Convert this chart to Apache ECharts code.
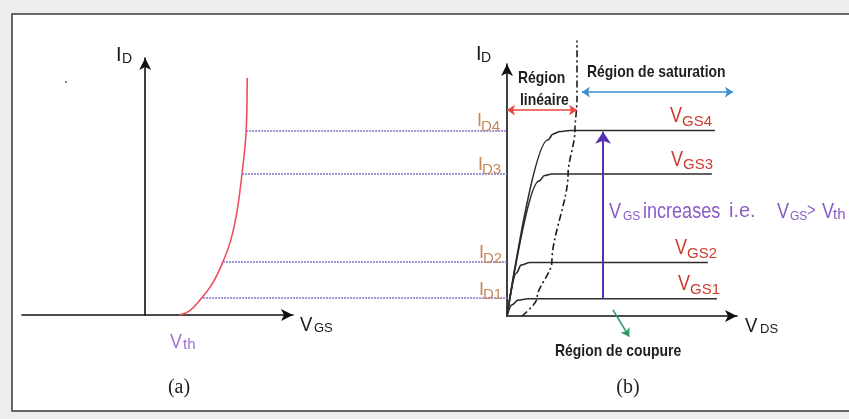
<!DOCTYPE html>
<html><head><meta charset="utf-8">
<script src="https://cdn.jsdelivr.net/npm/echarts@6/dist/echarts.min.js"></script>
<style>html,body{margin:0;padding:0;background:#ededed}#c{width:849px;height:419px}</style>
</head><body><div id="c"></div>
<script>
// ---- Panel (a): transfer characteristic I_D vs V_GS ----
const transferVgs = [1.0, 1.29, 1.58, 1.93, 2.24, 2.47, 2.64, 2.79, 2.91, 2.94];
const transferId  = [0, 0.17, 0.57, 1.18, 2.01, 2.85, 3.87, 5.35, 6.98, 8.99];
// drain current levels and the V_GS where the transfer curve reaches them
const idNames    = ['D1', 'D2', 'D3', 'D4'];
const idLevels   = [0.65, 2.02, 5.36, 7.0];
const idStartVgs = [1.67, 2.24, 2.79, 2.91];
// ---- Panel (b): output characteristics I_D vs V_DS ----
const vgsNames = ['GS1', 'GS2', 'GS3', 'GS4'];
const outVds = [
  [0, 0.21, 0.47, 0.89, 8.94],
  [0, 0.40, 0.60, 0.98, 8.55],
  [0, 1.36, 1.60, 1.91, 8.72],
  [0, 1.74, 1.96, 2.26, 2.68, 8.85]
];
const outId = [
  [0, 0.42, 0.60, 0.65, 0.65],
  [0, 1.62, 1.92, 2.02, 2.02],
  [0, 5.09, 5.30, 5.36, 5.36],
  [0, 6.64, 6.87, 6.96, 7.0, 7.0]
];
// saturation boundary (V_DS = V_GS - V_th), dash-dot
const satVds = [0.64, 1.28, 1.91, 2.60, 2.89, 2.98, 2.98];
const satId  = [0, 0.68, 2.04, 5.36, 6.98, 8.15, 10.4];

const zip = (xs, ys) => xs.map((x, i) => [x, ys[i]]);
const SANS = 'Liberation Sans, Arial, sans-serif';

function axis(extra) {
  return Object.assign({
    type: 'value',
    axisLabel: { show: false }, axisTick: { show: false }, splitLine: { show: false },
    axisLine: { show: true, onZero: true, symbol: ['none', 'arrow'], symbolSize: [9, 12],
      lineStyle: { color: '#111', width: 1.6 } }
  }, extra);
}
function txt(x, y, s, size, color, o) {
  o = o || {};
  return { type: 'text', x: x, y: y, z: 20, silent: true, scaleX: o.sx || 1,
    style: { text: s, fill: color, fontSize: size, fontFamily: o.family || SANS,
      fontWeight: o.weight || 'normal', align: o.align || 'left', verticalAlign: 'middle',
      textAlign: o.align || 'left', textVerticalAlign: 'middle' } };
}
const N = { sx: 0.82 };
const NB = { sx: 0.82, weight: 'bold' };

const series = [];
series.push({ type: 'line', xAxisIndex: 0, yAxisIndex: 0, data: zip(transferVgs, transferId),
  showSymbol: false, smooth: 0.4, z: 4,
  lineStyle: { color: '#ec4f5e', width: 1.6 } });
outVds.forEach((xs, i) => series.push({ type: 'line', xAxisIndex: 1, yAxisIndex: 1,
  data: zip(xs, outId[i]), showSymbol: false, smooth: 0.35, smoothMonotone: 'x', z: 4,
  lineStyle: { color: '#2c2c2c', width: 1.6 } }));
series.push({ type: 'line', xAxisIndex: 1, yAxisIndex: 1, data: zip(satVds, satId),
  showSymbol: false, smooth: 0.3, smoothMonotone: 'y', clip: false, z: 4,
  lineStyle: { color: '#1c1c1c', width: 1.6, type: [7, 3, 2, 3] } });
function seg(grid, coords, color, w, sym, size, type) {
  return { type: 'lines', coordinateSystem: 'cartesian2d', xAxisIndex: grid, yAxisIndex: grid,
    clip: false, z: 5, symbol: sym, symbolSize: size, silent: true,
    lineStyle: { color: color, width: w, opacity: 1, curveness: 0, type: type || 'solid' },
    data: [{ coords: coords }] };
}
series.push(seg(1, [[0, 7.77], [2.98, 7.77]], '#e8453c', 1.6, ['arrow', 'arrow'], 8));
series.push(seg(1, [[3.19, 8.45], [9.62, 8.45]], '#3d8dcc', 1.6, ['arrow', 'arrow'], 8));
series.push(seg(1, [[4.09, 0.65], [4.09, 6.95]], '#5a2fb5', 2, ['none', 'arrow'], [9, 12]));
series.push(seg(1, [[4.51, 0.23], [5.2, -0.78]], '#2a9a6a', 1.6, ['none', 'arrow'], [6, 8]));

const PUR = '#8a5cc8';
const graphic = [
  { type: 'rect', z: -5, silent: true, shape: { x: 12, y: 14, width: 860, height: 397 },
    style: { fill: '#ffffff', stroke: '#3a3a3a', lineWidth: 1.5 } },
  { type: 'circle', z: 20, silent: true, shape: { cx: 66, cy: 82, r: 1 }, style: { fill: '#555' } },
  // panel (a) axis labels
  txt(116, 55, 'I', 20, '#1a1a1a'), txt(122, 59, 'D', 14, '#1a1a1a'),
  txt(300, 325, 'V', 21, '#1a1a1a', { sx: 0.88 }), txt(314, 328, 'GS', 13, '#1a1a1a'),
  txt(170, 342, 'V', 21, '#9d70d5', { sx: 0.85 }), txt(183, 345, 'th', 15, '#9d70d5'),
  txt(179, 388, '(a)', 20, '#222', { family: 'Liberation Serif, serif', align: 'center' }),
  // panel (b) axis labels
  txt(476, 54, 'I', 20, '#1a1a1a'), txt(481, 58, 'D', 14, '#1a1a1a'),
  txt(745, 326, 'V', 21, '#1a1a1a', { sx: 0.88 }), txt(760, 329, 'DS', 13, '#1a1a1a'),
  txt(628, 388, '(b)', 20, '#222', { family: 'Liberation Serif, serif', align: 'center' }),
  // region annotations
  txt(518, 78, 'Région', 17, '#1e1e1e', NB),
  txt(520, 100, 'linéaire', 17, '#1e1e1e', NB),
  txt(587, 72, 'Région de saturation', 17, '#1e1e1e', NB),
  txt(555, 351, 'Région de coupure', 17, '#1e1e1e', NB),
  // purple sentence
  txt(609, 211.5, 'V', 22, PUR, N), txt(623, 216.5, 'GS', 12, PUR),
  txt(643, 211.5, 'increases', 22, PUR, N),
  txt(729, 211.5, 'i.e.', 20, PUR),
  txt(777, 211.5, 'V', 22, PUR, N), txt(790, 216.5, 'GS', 12, PUR),
  txt(807, 211.5, '>', 18, PUR, N),
  txt(822, 211.5, 'V', 22, PUR, N), txt(833, 215, 'th', 15, PUR)
];
const vgsLabelX = [678, 675, 671, 670];
const idLabelX = [479, 479, 478, 477];

const chart = echarts.init(document.getElementById('c'), null, { renderer: 'canvas' });
chart.setOption({
  backgroundColor: '#ededed',
  animation: false,
  grid: [
    { left: 22, top: 58, width: 271, height: 257 },
    { left: 507, top: 64, width: 230, height: 252 }
  ],
  xAxis: [axis({ gridIndex: 0, min: -3.55, max: 4.26 }), axis({ gridIndex: 1, min: 0, max: 9.79 })],
  yAxis: [axis({ gridIndex: 0, min: 0, max: 9.75 }), axis({ gridIndex: 1, min: 0, max: 9.51 })],
  series: series,
  graphic: graphic
});

// dotted projection lines from the transfer curve to the I_D axis of panel (b)
const axisB = chart.convertToPixel({ xAxisIndex: 1, yAxisIndex: 1 }, [0, 0]);
const pa0 = chart.convertToPixel({ xAxisIndex: 0, yAxisIndex: 0 }, [0, 0]);
const pa1 = chart.convertToPixel({ xAxisIndex: 0, yAxisIndex: 0 }, [1, 0]);
const endVgs = (axisB[0] - pa0[0]) / (pa1[0] - pa0[0]);
idLevels.forEach((lv, i) => {
  series.push(seg(0, [[idStartVgs[i], lv], [endVgs, lv]], '#7d74c4', 1.6, ['none', 'none'], 1, [2, 1]));
  const py = chart.convertToPixel({ xAxisIndex: 1, yAxisIndex: 1 }, [0, lv])[1];
  graphic.push(txt(vgsLabelX[i], py - 14.5, 'V', 22, '#cf3a2e', N));
  graphic.push(txt(vgsLabelX[i] + 12, py - 9, vgsNames[i], 15, '#cf3a2e'));
  graphic.push(txt(idLabelX[i], py - 9, 'I', 18, '#c8875a'));
  graphic.push(txt(idLabelX[i] + 4, py - 4, idNames[i], 15, '#c8875a'));
});
chart.setOption({ series: series, graphic: graphic });
</script></body></html>
